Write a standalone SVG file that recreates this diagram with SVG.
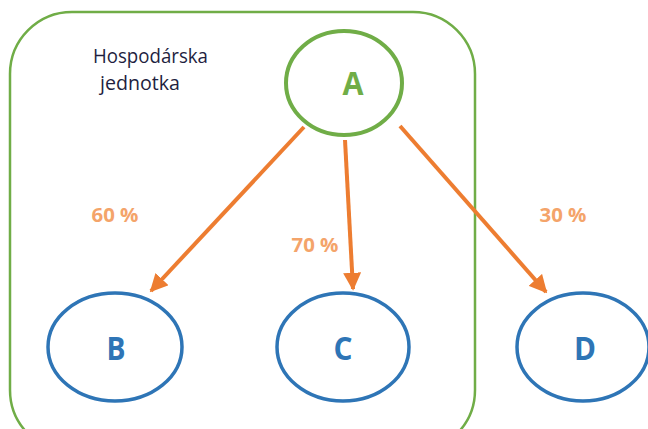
<svg xmlns="http://www.w3.org/2000/svg" width="648" height="429" viewBox="0 0 648 429">
<defs>
<style>
.green{fill:none;stroke:#70AD47;}
.blue{fill:#fff;stroke:#2E75B6;stroke-width:3.5;}
.lbl{font-family:"Open Sans","Liberation Sans",sans-serif;font-weight:bold;font-size:32px;text-anchor:middle;}
.pct{font-family:"Open Sans","Liberation Sans",sans-serif;font-weight:bold;font-size:20px;fill:#F4A46A;text-anchor:middle;}
.txt{font-family:"Open Sans","Liberation Sans",sans-serif;font-size:20px;fill:#1F1F3F;}
.edge{stroke:#ED7D31;stroke-width:4;fill:none;marker-end:url(#ah);}
</style>
<marker id="ah" viewBox="0 0 10 10" refX="9" refY="5" markerWidth="4.5" markerHeight="4.5" orient="auto" markerUnits="strokeWidth">
<path d="M0,0 L10,5 L0,10 z" fill="#ED7D31"/>
</marker>
</defs>
<rect width="648" height="429" fill="#fff"/>
<g id="unit">
<rect class="green" x="10" y="12" width="465" height="440" rx="62" ry="62" stroke-width="2.5"/>
<text class="txt" x="93" y="63" textLength="115" lengthAdjust="spacingAndGlyphs">Hospodárska</text>
<text class="txt" x="100" y="90" textLength="80" lengthAdjust="spacingAndGlyphs">jednotka</text>
</g>
<g id="edges">
<line class="edge" x1="304" y1="127" x2="151" y2="291"/>
<line class="edge" x1="345" y1="140" x2="353" y2="289"/>
<line class="edge" x1="400" y1="126" x2="546" y2="292"/>
<text class="pct" x="115" y="222" textLength="47" lengthAdjust="spacingAndGlyphs">60 %</text>
<text class="pct" x="315" y="252" textLength="47" lengthAdjust="spacingAndGlyphs">70 %</text>
<text class="pct" x="563" y="222" textLength="47" lengthAdjust="spacingAndGlyphs">30 %</text>
</g>
<g id="A">
<ellipse class="green" cx="344" cy="83" rx="58" ry="52" stroke-width="4"/>
<text class="lbl" x="353" y="95" fill="#70AD47" textLength="21" lengthAdjust="spacingAndGlyphs">A</text>
</g>
<g id="B">
<ellipse class="blue" cx="115" cy="347" rx="67" ry="54"/>
<text class="lbl" x="116" y="360" fill="#2E75B6" textLength="19" lengthAdjust="spacingAndGlyphs">B</text>
</g>
<g id="C">
<ellipse class="blue" cx="343" cy="347" rx="66" ry="54"/>
<text class="lbl" x="343" y="360" fill="#2E75B6" textLength="19" lengthAdjust="spacingAndGlyphs">C</text>
</g>
<g id="D">
<ellipse class="blue" cx="583" cy="347" rx="66" ry="54"/>
<text class="lbl" x="585" y="360" fill="#2E75B6" textLength="22" lengthAdjust="spacingAndGlyphs">D</text>
</g>
</svg>
